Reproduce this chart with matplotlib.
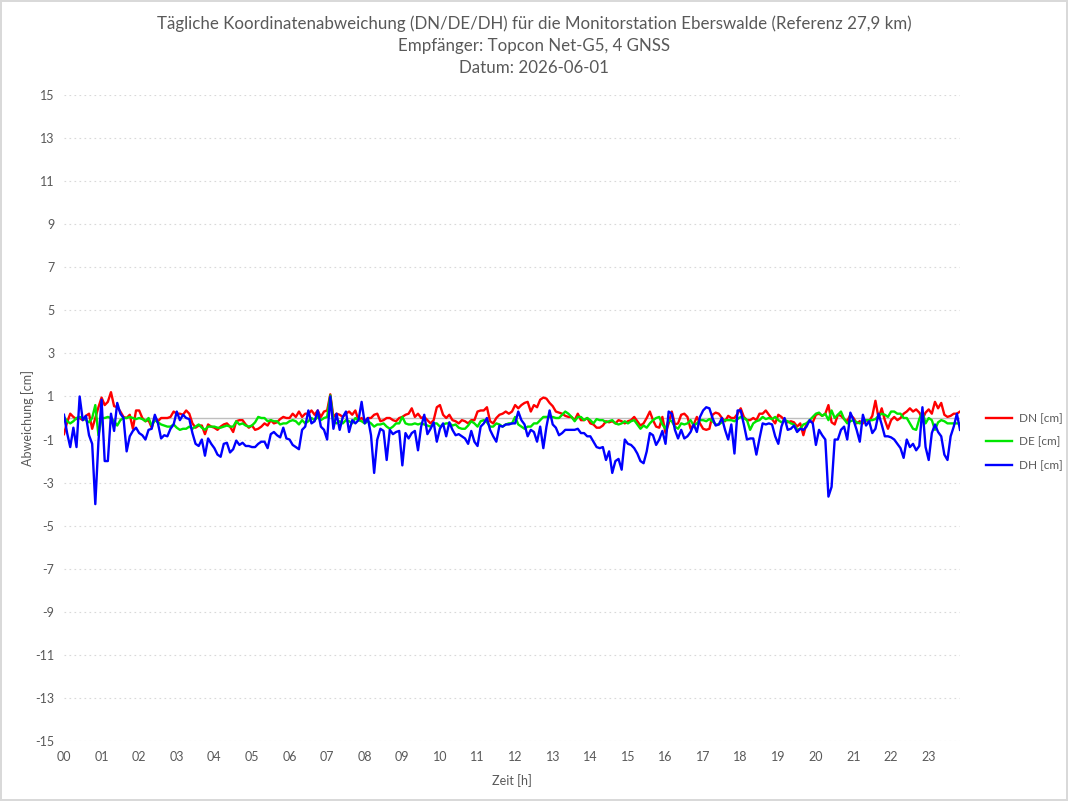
import matplotlib
matplotlib.use("Agg")
import matplotlib.pyplot as plt
import numpy as np

# 5-minute samples 00:00 .. 23:50, one row per hour
dn_cm = [
    -0.75, -0.2, 0.2, 0.05, -0.05, 0.0, -0.1, 0.1, 0.2, -0.5, 0.0, 0.5,
    0.95, 0.6, 0.75, 1.2, 0.55, 0.5, 0.3, 0.05, 0.0, 0.15, -0.5, 0.35,
    0.35, 0.0, -0.15, -0.1, -0.45, 0.05, -0.15, 0.0, 0.0, 0.0, 0.05, 0.3,
    0.2, 0.2, 0.15, 0.35, 0.2, -0.25, -0.45, -0.35, -0.35, -0.75, -0.3, -0.4,
    -0.45, -0.55, -0.4, -0.3, -0.25, -0.4, -0.65, -0.15, -0.1, -0.1, -0.3, -0.45,
    -0.35, -0.55, -0.5, -0.4, -0.25, -0.35, -0.1, -0.25, -0.2, -0.05, 0.05, 0.0,
    0.0, 0.2, 0.05, 0.3, 0.05, 0.2, 0.2, 0.35, 0.15, 0.35, 0.05, 0.3,
    0.35, 1.1, 0.05, 0.2, 0.15, 0.05, 0.2, 0.3, 0.15, 0.35, -0.1, 0.0,
    -0.15, 0.0, 0.0, 0.15, 0.2, -0.15, -0.1, 0.0, 0.0, -0.1, -0.15, 0.0,
    0.05, 0.15, 0.2, 0.45, 0.05, 0.2, 0.0, 0.05, -0.1, -0.25, -0.1, 0.5,
    0.6, 0.15, 0.0, 0.15, -0.1, -0.15, -0.25, -0.1, -0.15, -0.25, -0.1, -0.1,
    0.3, 0.35, 0.35, 0.5, -0.15, -0.25, 0.0, 0.15, 0.2, 0.3, 0.2, 0.3,
    0.6, 0.45, 0.6, 0.7, 0.75, 0.3, 0.6, 0.5, 0.85, 0.95, 0.9, 0.7,
    0.55, 0.3, 0.25, 0.2, 0.1, 0.05, 0.05, -0.1, 0.2, -0.1, -0.1, 0.0,
    -0.25, -0.3, -0.45, -0.45, -0.35, -0.15, -0.2, -0.15, -0.25, -0.1, -0.15, -0.25,
    -0.15, -0.1, 0.05, -0.15, -0.35, -0.25, 0.0, 0.3, -0.1, -0.4, -0.45, 0.05,
    -0.7, -0.25, 0.3, -0.3, -0.25, 0.15, 0.2, 0.05, -0.5, -0.3, 0.05, -0.25,
    -0.5, -0.55, -0.5, 0.15, 0.25, 0.2, 0.0, -0.15, 0.1, 0.0, 0.0, 0.2,
    0.45, 0.05, -0.1, -0.1, 0.0, -0.1, 0.2, 0.2, 0.35, 0.15, -0.05, -0.25,
    0.15, 0.05, -0.1, -0.2, -0.15, -0.2, -0.4, -0.25, -0.8, -0.25, -0.15, -0.2,
    0.15, 0.2, 0.1, 0.2, 0.6, -0.2, -0.3, 0.15, 0.1, -0.05, -0.15, 0.15,
    0.0, -0.25, -0.15, -0.25, -0.1, -0.15, 0.1, 0.8, 0.0, 0.45, -0.1, -0.5,
    -0.1, 0.05, -0.1, 0.0, 0.2, 0.3, 0.45, 0.3, 0.4, 0.25, -0.05, 0.25,
    0.4, 0.2, 0.75, 0.45, 0.7, 0.15, 0.05, 0.1, 0.2, 0.2, 0.3,
]

de_cm = [
    0.05, -0.15, -0.25, -0.15, 0.0, 0.05, 0.0, -0.1, -0.2, 0.0, 0.6, -0.8,
    0.0, 0.0, 0.05, 0.0, -0.15, -0.35, -0.1, 0.0, 0.0, 0.05, 0.0, -0.05,
    0.0, -0.05, -0.15, 0.0, -0.35, -0.1, -0.2, -0.3, -0.35, -0.4, -0.4, -0.3,
    -0.45, -0.55, -0.5, -0.5, -0.4, -0.5, -0.4, -0.3, -0.45, -0.55, -0.4, -0.4,
    -0.4, -0.45, -0.45, -0.4, -0.35, -0.4, -0.4, -0.15, -0.3, -0.25, -0.35, -0.4,
    -0.35, -0.2, 0.05, 0.0, 0.0, -0.15, -0.1, -0.15, -0.15, -0.3, -0.25, -0.25,
    -0.15, -0.1, -0.15, -0.3, -0.1, -0.25, -0.15, 0.0, -0.1, 0.05, -0.1, 0.0,
    0.05, 1.05, -0.15, -0.25, -0.15, -0.25, -0.1, -0.15, -0.25, 0.0, -0.1, -0.15,
    -0.25, -0.15, -0.25, -0.4, -0.3, -0.3, -0.25, -0.4, -0.5, -0.4, -0.25, -0.25,
    0.05, -0.25, -0.3, -0.3, -0.25, -0.3, -0.25, -0.3, -0.35, -0.4, -0.25, -0.25,
    -0.4, -0.3, -0.25, -0.25, -0.35, -0.3, -0.45, -0.5, -0.5, -0.35, -0.15, -0.25,
    -0.4, -0.15, -0.1, -0.2, -0.4, -0.4, -0.25, -0.3, -0.4, -0.3, -0.25, -0.25,
    0.05, -0.3, -0.4, -0.5, -0.4, -0.4, -0.25, -0.25, -0.1, 0.05, 0.05, 0.05,
    0.05, 0.0, 0.0, 0.15, 0.3, 0.2, 0.05, -0.15, 0.05, 0.05, -0.1, 0.0,
    -0.1, -0.25, -0.05, -0.1, -0.1, -0.2, -0.15, -0.1, -0.25, -0.3, -0.25, -0.15,
    -0.25, -0.15, -0.1, -0.3, -0.5, -0.35, -0.45, -0.25, -0.1, 0.0, 0.05, -0.3,
    -0.5, -0.1, -0.15, -0.4, -0.5, -0.25, -0.3, -0.25, -0.1, -0.35, -0.25, -0.1,
    -0.1, -0.15, -0.05, -0.15, -0.3, -0.3, -0.2, -0.1, -0.1, -0.1, -0.15, -0.05,
    0.05, 0.0, -0.1, -0.55, -0.25, -0.15, -0.1, 0.05, -0.05, 0.0, -0.05, 0.05,
    -0.1, -0.2, -0.1, -0.15, -0.25, -0.3, -0.55, -0.5, -0.3, -0.25, -0.1, 0.05,
    0.2, 0.25, 0.1, 0.2, -0.1, 0.35, 0.0, 0.15, 0.3, -0.05, -0.25, -0.15,
    -0.1, -0.2, -0.25, -0.15, -0.1, -0.1, -0.1, -0.05, 0.1, 0.2, 0.15, 0.05,
    0.3, 0.3, 0.2, 0.2, 0.0, 0.0, -0.25, -0.5, -0.55, -0.05, 0.3, -0.25,
    0.0, -0.1, -0.55, -0.2, -0.1, -0.15, -0.25, -0.25, -0.25, -0.25, -0.25,
]

dh_cm = [
    0.15, -0.7, -1.35, -0.45, -1.35, 1.0, -0.1, 0.1, -0.8, -1.2, -4.0, -1.1,
    0.85, -2.0, -2.0, 0.2, -0.6, 0.7, 0.2, 0.0, -1.55, -0.85, -0.6, -0.45,
    -0.7, -0.8, -1.0, -0.55, -0.5, 0.15, -0.25, -0.95, -0.8, -0.85, -0.5, -0.3,
    0.3, -0.1, 0.15, 0.0, -0.05, -0.7, -1.2, -1.3, -1.0, -1.75, -0.95, -1.2,
    -1.4, -1.7, -1.8, -1.2, -1.15, -1.6, -1.45, -1.05, -1.25, -1.15, -1.3, -1.3,
    -1.35, -1.35, -1.2, -1.1, -1.1, -1.4, -0.75, -0.65, -0.8, -0.9, -0.45, -0.95,
    -1.0, -1.25, -1.35, -1.45, -0.55, -0.4, 0.35, -0.25, -0.15, 0.35, -0.4, -0.55,
    -1.0, 1.0, -0.5, 0.2, -0.55, 0.05, 0.3, -0.65, -0.1, -0.25, -0.1, 0.75,
    -0.25, 0.0, -0.8, -2.55, -1.0, -0.5, -0.6, -1.95, -0.55, -0.75, -0.65, -0.6,
    -2.2, -0.7, -0.95, -0.7, -0.6, -1.5, -0.4, 0.15, -0.75, -0.5, -0.2, -1.1,
    -0.5, -0.25, -0.85, -0.2, -0.55, -0.8, -0.75, -0.85, -0.95, -1.2, -0.6, -1.1,
    -1.3, -0.4, -0.25, 0.0, -0.55, -0.85, -1.1, -0.35, -0.4, -0.3, -0.3, -0.25,
    -0.25, 0.3, -0.1, -0.3, -0.85, -0.55, -0.65, -1.1, -0.4, -1.4, -0.4, 0.35,
    -0.3, -0.45, -0.8, -0.7, -0.55, -0.55, -0.55, -0.55, -0.5, -0.7, -0.7, -0.85,
    -0.85, -1.1, -1.35, -1.4, -1.35, -1.95, -1.55, -2.55, -2.0, -1.9, -2.4, -1.0,
    -1.2, -1.25, -1.4, -1.65, -2.0, -2.1, -1.55, -0.7, -0.8, -1.25, -1.0, -0.6,
    -1.2, 0.3, 0.2, -0.55, -0.95, -0.55, -0.95, -0.85, -0.65, -0.3, -0.65, 0.05,
    0.35, 0.5, 0.45, 0.0, -0.35, -0.3, 0.0, -0.55, -1.0, -0.3, -1.65, 0.35,
    0.35, -0.3, -1.0, -0.95, -0.95, -1.7, -0.95, -0.25, -0.3, -0.25, -0.3, -0.85,
    -1.2, -0.4, 0.0, -0.55, -0.5, -0.35, -0.65, -0.5, -0.55, -0.4, -0.1, -0.25,
    -1.25, -0.55, -0.8, -1.0, -3.65, -3.2, -1.0, -1.0, -0.55, -0.4, -1.0, 0.25,
    -0.1, -0.55, -1.1, 0.15, -0.35, -0.15, -0.7, -0.5, 0.2, -0.3, -0.85, -0.85,
    -0.9, -1.0, -1.2, -1.4, -1.85, -1.0, -1.35, -1.2, -1.5, -1.3, 0.5, -1.35,
    -1.95, -0.7, -0.3, -0.65, -0.85, -1.7, -1.95, -0.85, -0.4, 0.2, -0.55,
]

hour_labels = [f"{h:02d}" for h in range(24)]
y_ticks = list(range(-15, 16, 2))

series = [("DN [cm]", dn_cm, "#ff0000"),
          ("DE [cm]", de_cm, "#00e600"),
          ("DH [cm]", dh_cm, "#0000ff")]

GRAY = "#595959"
plt.rcParams["font.family"] = ["Lato", "DejaVu Sans"]
plt.rcParams["axes.unicode_minus"] = False

fig = plt.figure(figsize=(10.68, 8.01), dpi=100)
fig.patch.set_edgecolor("#d9d9d9")
fig.patch.set_linewidth(1.5)
ax = fig.add_axes([0.0599, 0.0749, 0.8390, 0.8065])

t = np.arange(len(dn_cm)) * 5 / 60.0
for name, vals, col in series:
    ax.plot(t, vals, color=col, lw=1.7, label=name)

ax.set_xlim(0, t[-1])
ax.set_ylim(-15, 15)
ax.set_yticks(y_ticks)
ax.set_xticks(range(24))
ax.set_xticklabels(hour_labels)
ax.grid(axis="y", color="#d9d9d9", linestyle=(0, (1.5, 3)), lw=0.8)
ax.axhline(0, color="#bfbfbf", lw=1.0, zorder=1)
for s in ax.spines.values():
    s.set_visible(False)
ax.tick_params(length=0, colors=GRAY, labelsize=9, pad=7)
ax.set_xlabel("Zeit [h]", color=GRAY, fontsize=9, labelpad=8)
ax.set_ylabel("Abweichung [cm]", color=GRAY, fontsize=9, va="center")
ax.yaxis.set_label_coords(-0.041, 0.5)

fig.text(0.5, 0.9705, "Tägliche Koordinatenabweichung (DN/DE/DH) für die Monitorstation Eberswalde (Referenz 27,9 km)",
         ha="center", va="center", color=GRAY, fontsize=12.2)
fig.text(0.5, 0.943, "Empfänger: Topcon Net-G5, 4 GNSS", ha="center", va="center", color=GRAY, fontsize=12.2)
fig.text(0.5, 0.9145, "Datum: 2026-06-01", ha="center", va="center", color=GRAY, fontsize=12.2)

leg = ax.legend(loc="center left", bbox_to_anchor=(1.017, 0.463), frameon=False,
                fontsize=8.5, handlelength=2.2, handletextpad=0.6, labelspacing=1.05)
for txt in leg.get_texts():
    txt.set_color(GRAY)

fig.savefig("out.png", dpi=100)
